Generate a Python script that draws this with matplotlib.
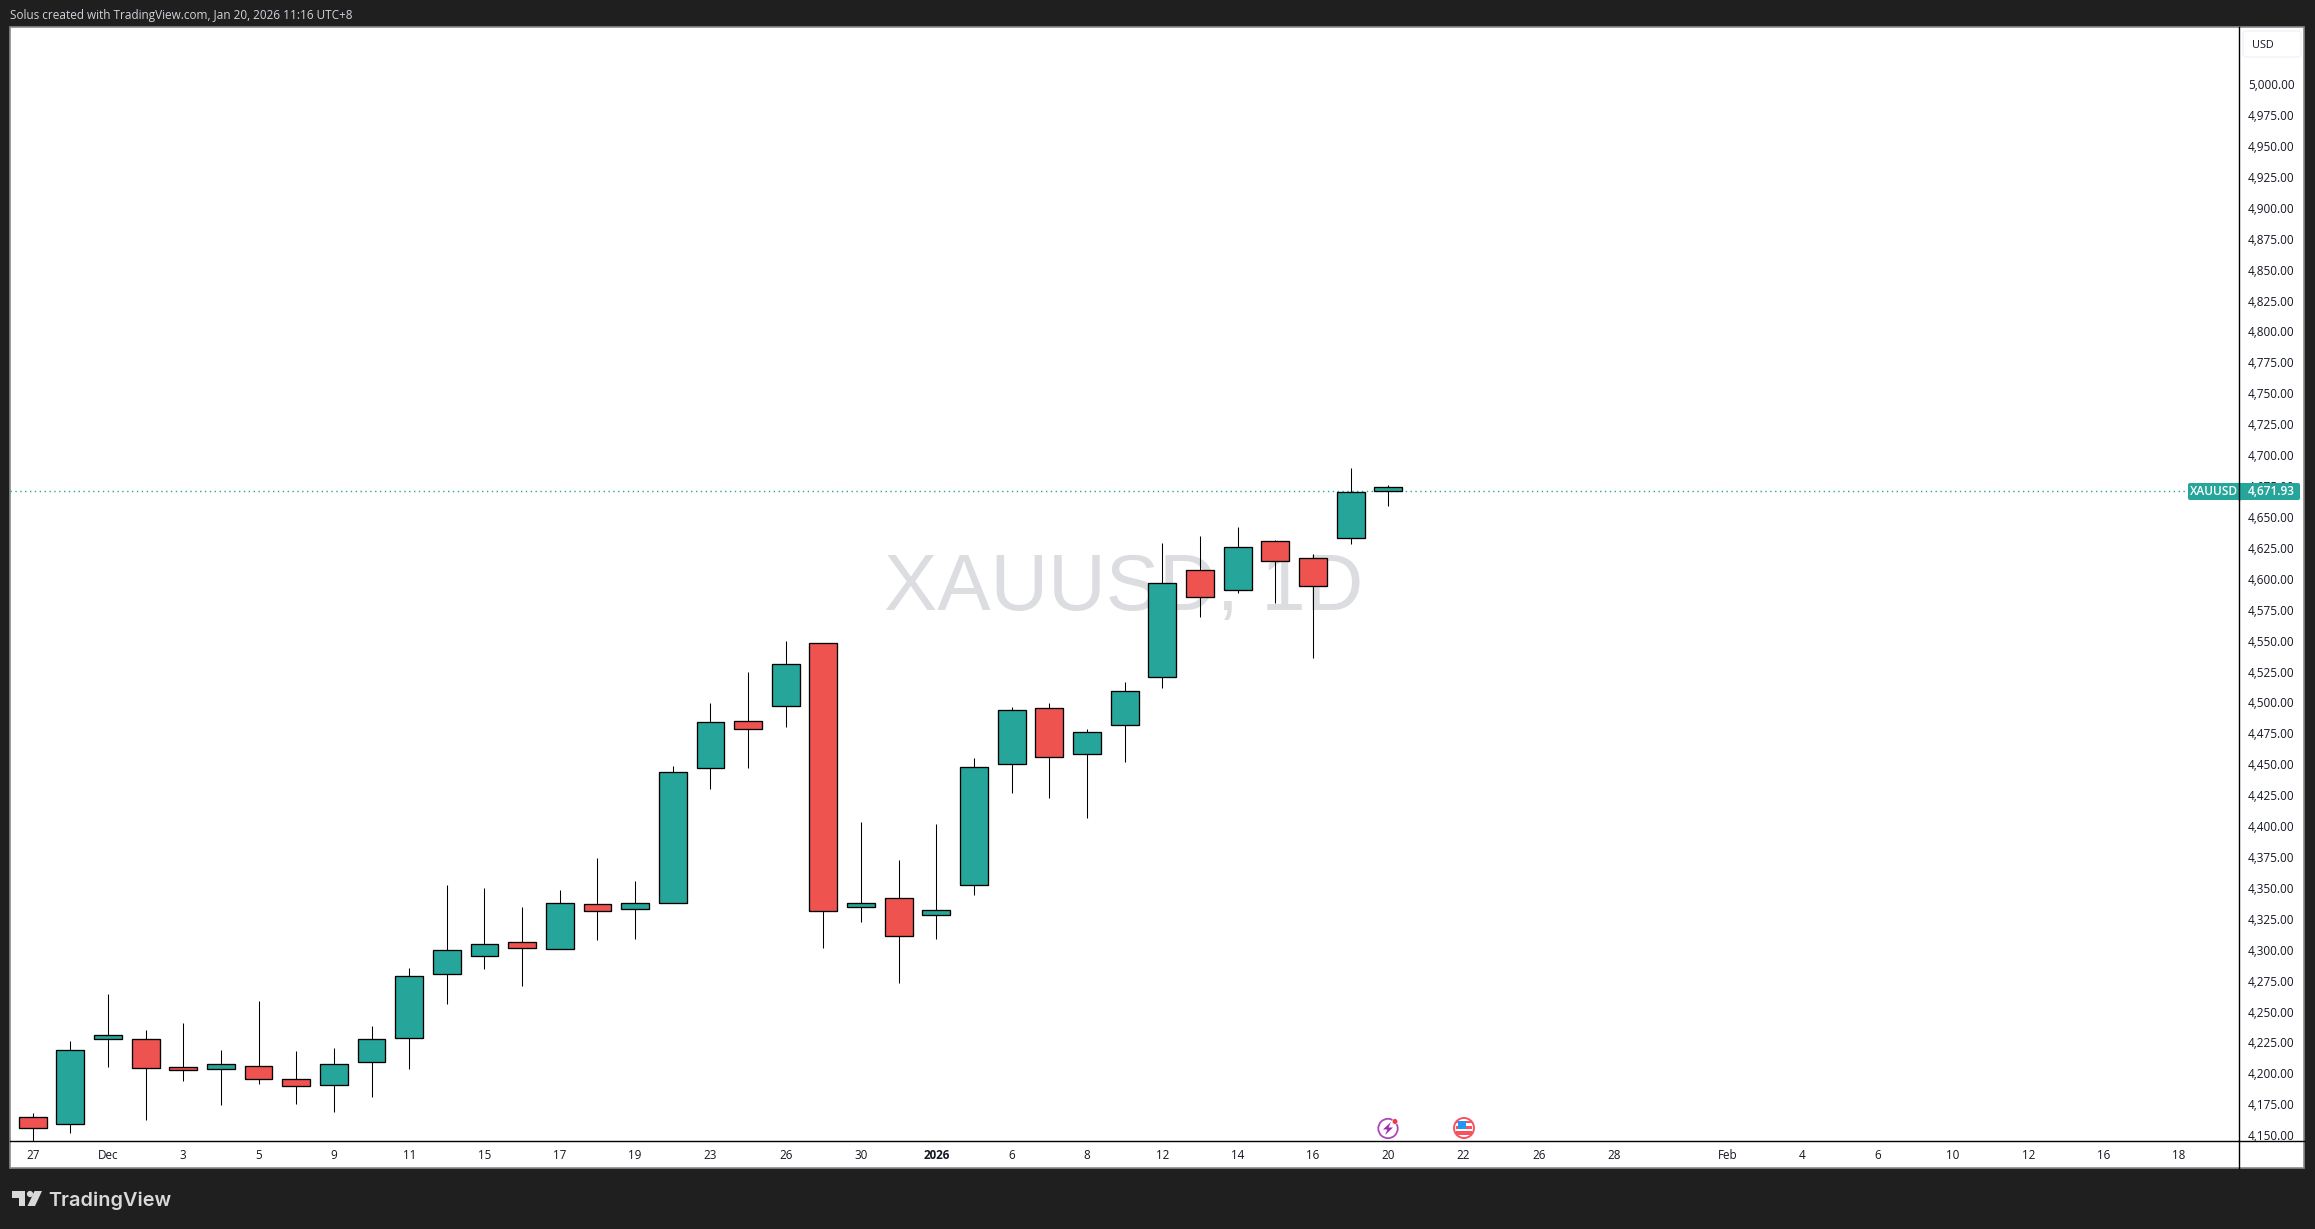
import numpy as np
import matplotlib
matplotlib.use('Agg')
import matplotlib.pyplot as plt
from matplotlib.patches import Rectangle, FancyBboxPatch, Circle, Polygon
from matplotlib.transforms import ScaledTranslation

# daily candles
opens = [4165.1, 4159.5, 4228.8, 4228.2, 4205.6, 4204.0, 4206.4, 4195.9, 4191.0, 4209.6,
         4229.0, 4280.8, 4295.4, 4306.7, 4301.0, 4337.4, 4333.4, 4338.2, 4448.0, 4486.0,
         4498.0, 4548.4, 4335.5, 4342.2, 4328.4, 4352.7, 4450.6, 4495.9, 4458.7, 4482.1,
         4520.9, 4607.5, 4591.3, 4630.9, 4617.2, 4633.4, 4671.4]
highs = [4168.9, 4226.9, 4264.9, 4235.8, 4241.4, 4219.6, 4259.2, 4218.8, 4221.2, 4239.0,
         4285.7, 4353.0, 4350.6, 4335.3, 4349.0, 4374.9, 4356.3, 4449.0, 4500.0, 4525.0,
         4550.0, 4548.4, 4403.9, 4373.2, 4402.3, 4455.4, 4496.7, 4499.9, 4479.2, 4516.9,
         4630.0, 4635.0, 4642.5, 4632.0, 4620.7, 4690.0, 4676.5]
lows = [4146.0, 4152.7, 4206.1, 4163.0, 4194.8, 4175.4, 4192.1, 4176.2, 4169.7, 4181.9,
        4204.5, 4257.1, 4285.4, 4271.6, 4301.0, 4308.8, 4309.6, 4338.2, 4431.0, 4448.0,
        4481.0, 4302.3, 4323.3, 4274.0, 4309.6, 4345.2, 4427.7, 4423.6, 4407.4, 4452.7,
        4512.6, 4570.0, 4589.4, 4581.3, 4536.8, 4629.1, 4659.8]
closes = [4156.8, 4219.3, 4231.5, 4204.8, 4203.2, 4208.0, 4195.9, 4190.2, 4208.0, 4228.2,
          4279.2, 4300.2, 4305.1, 4301.8, 4338.2, 4331.8, 4338.2, 4444.4, 4485.0, 4479.0,
          4532.0, 4331.7, 4338.2, 4311.5, 4332.5, 4448.2, 4494.3, 4456.2, 4476.5, 4509.6,
          4597.0, 4585.6, 4626.1, 4614.8, 4594.6, 4670.6, 4674.6]
last_price = 4671.93

date_labels = ['27', 'Dec', '3', '5', '9', '11', '15', '17', '19', '23', '26', '30', '2026',
               '6', '8', '12', '14', '16', '20', '22', '26', '28', 'Feb', '4', '6', '10',
               '12', '16', '18']
date_pos = [0, 2, 4, 6, 8, 10, 12, 14, 16, 18, 20, 22, 24, 26, 28, 30, 32, 34, 36, 38, 40,
            42, 45, 47, 49, 51, 53, 55, 57]
price_ticks = np.arange(4150, 5001, 25)

W, H = 2315, 1229
UP = '#26a69a'
DOWN = '#ef5350'
DARK = '#1f1f1f'
FONT = ['Open Sans', 'DejaVu Sans']

fig = plt.figure(figsize=(W / 100, H / 100), dpi=100, facecolor=DARK)

# background layer, pixel coords
bg = fig.add_axes([0, 0, 1, 1], zorder=0)
bg.set_xlim(0, W)
bg.set_ylim(H, 0)
bg.axis('off')
bg.add_patch(Rectangle((10, 27), 2294, 1141, fc='white', ec='#8a8a8a', lw=1.2))
bg.text(1124, 610, 'XAUUSD, 1D', family='Liberation Sans', fontsize=57.5, color='#dcdde0',
        ha='center', va='baseline')

# main chart
L, R, T, B = 10, 2239, 27, 1141
ax = fig.add_axes([L / W, 1 - B / H, (R - L) / W, (B - T) / H], zorder=1)
ax.patch.set_alpha(0)
ax.set_xlim(-0.6, 58.59)
ax.set_ylim(4146, 5046.9)
for s in ['top', 'left']:
    ax.spines[s].set_visible(False)
for s in ['bottom', 'right']:
    ax.spines[s].set_linewidth(1.0)

x = np.arange(len(opens))
colors = [UP if c >= o else DOWN for o, c in zip(opens, closes)]
ax.axhline(last_price, color=UP, lw=1, ls=(0, (1, 2.5)), zorder=1)
ax.vlines(x, lows, highs, color='black', lw=0.75, zorder=2)
ax.bar(x, np.abs(np.array(closes) - np.array(opens)), bottom=np.minimum(opens, closes),
       width=0.74, color=colors, edgecolor='black', lw=0.95, zorder=3)

ax.set_xticks(date_pos)
ax.set_xticklabels(date_labels, family=FONT, fontsize=8.4, color='#131722')
for lab, txt in zip(ax.get_xticklabels(), date_labels):
    if txt == '2026':
        lab.set_fontweight('bold')
ax.tick_params(axis='x', length=0, pad=5.5)
ax.yaxis.tick_right()
ax.set_yticks(price_ticks)
ax.set_yticklabels([f'{v:,.2f}' for v in price_ticks], family=FONT, fontsize=8.5, color='#131722',
                   va='center_baseline')
ax.tick_params(axis='y', length=0, pad=6.5)
# nudge the price labels up a little
nudge = ScaledTranslation(0, 0.6 / 72, fig.dpi_scale_trans)
for lab in ax.get_yticklabels():
    lab.set_transform(lab.get_transform() + nudge)

# top layer: price tag, USD box, event icons, header and logo
fg = fig.add_axes([0, 0, 1, 1], zorder=2)
fg.set_xlim(0, W)
fg.set_ylim(H, 0)
fg.axis('off')
fg.patch.set_alpha(0)

fg.plot([2239, 2239], [1141, 1168], color='black', lw=1.0)
fg.plot([2239, 2304], [1141, 1141], color='black', lw=1.0)

fg.add_patch(FancyBboxPatch((2190, 485), 108, 13, boxstyle='round,pad=2,rounding_size=2', fc=UP, ec='none'))
fg.plot([2239, 2239], [483, 500], color='black', lw=1.0)
fg.text(2214, 491.5, 'XAUUSD', family=FONT, fontsize=8.6, color='white', ha='center', va='center', fontweight='semibold')
fg.text(2271, 491.5, f'{last_price:,.2f}', family=FONT, fontsize=8.6, color='white', ha='center', va='center', fontweight='semibold')

fg.add_patch(FancyBboxPatch((2246, 34), 52, 20, boxstyle='round,pad=3,rounding_size=3', fc='white', ec='#f0f3fa', lw=1))
fg.text(2252, 45, 'USD', family=FONT, fontsize=7.8, color='#131722', ha='left', va='center')

# earnings style icon
fg.add_patch(Circle((1388, 1128.5), 9.7, fc='white', ec='#ab47bc', lw=1.3))
fg.add_patch(Polygon([[1391, 1122], [1383, 1129.5], [1387.5, 1129.5], [1385, 1135],
                      [1393, 1127.5], [1388.5, 1127.5]], fc='#9c27b0', ec='none'))
fg.add_patch(Circle((1395, 1121.5), 2.8, fc='#f23645', ec='white', lw=0.4))

# US flag icon
fg.add_patch(Circle((1464, 1128), 10, fc='white', ec='#f7525f', lw=1.4))
for yy, hh in [(1121, 2), (1126, 2.5), (1131, 3.5)]:
    fg.add_patch(Rectangle((1456, yy), 16, hh, fc='#f7525f', ec='none'))
fg.add_patch(Rectangle((1458, 1120.5), 7.5, 8, fc='#2196f3', ec='none'))

fg.text(10, 15, 'Solus created with TradingView.com, Jan 20, 2026 11:16 UTC+8', family=FONT,
        fontsize=8.5, color='#d1d4dc', ha='left', va='center')

# TradingView logo
LOGO = '#d9d9d9'
fg.add_patch(Polygon([[12, 1191], [25, 1191], [25, 1206], [18.5, 1206], [18.5, 1197.5], [12, 1197.5]], fc=LOGO, ec='none'))
fg.add_patch(Circle((30, 1194), 3.1, fc=LOGO, ec='none'))
fg.add_patch(Polygon([[34.5, 1191], [42, 1191], [35, 1206], [27.5, 1206]], fc=LOGO, ec='none'))
fg.text(48, 1206, 'TradingView', family=['Inter', 'DejaVu Sans'], fontsize=14.3, color=LOGO,
        ha='left', va='baseline', fontweight='semibold')

fig.savefig('out.png', dpi=100, facecolor=DARK)
